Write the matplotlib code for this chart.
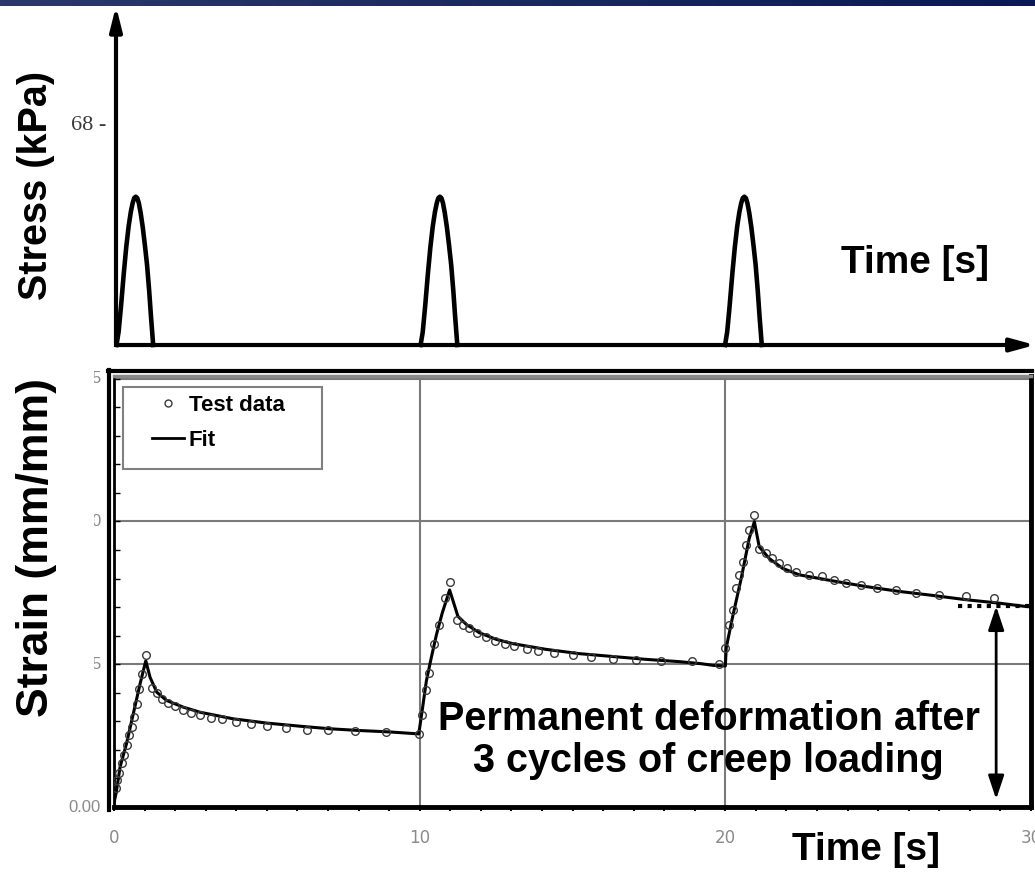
import numpy as np
import matplotlib
matplotlib.use("Agg")
import matplotlib.pyplot as plt
from matplotlib.lines import Line2D
from matplotlib.patches import Rectangle
from matplotlib import transforms

# stress pulses (one pulse shape, repeated at each cycle start)
pulse_starts = [0.08, 10.02, 19.97]
pulse_t = [0, 0.07, 0.15, 0.24, 0.32, 0.40, 0.47, 0.53, 0.58, 0.63, 0.68, 0.73, 0.79, 0.86,
           0.93, 1.0, 1.07, 1.13, 1.2]
pulse_kpa = [0, 4, 12, 22, 30, 36.5, 40.8, 43.5, 45, 45.4, 45, 43.5, 40.5, 36, 30.5, 24.5,
             16.5, 8.5, 0]

# strain fit curve
fit_t = [0.0, 0.07, 0.2, 0.41, 0.63, 0.85, 1.04, 1.18, 1.40, 1.72, 2.26, 2.81, 3.89, 4.99, 6.08,
         7.06, 8.0, 9.0, 9.97,
         10.06, 10.22, 10.38, 10.55, 10.74, 10.98, 11.25, 11.53, 11.96, 12.51, 13.05, 14.14,
         15.23, 16.32, 17.41, 18.5, 19.2, 19.6, 20.0,
         20.03, 20.23, 20.52, 20.78, 20.95, 21.11, 21.44, 21.87, 22.42, 23.51, 24.6, 25.69,
         26.78, 27.87, 28.95, 29.77, 30.0]
fit_s = [0.0015, 0.0049, 0.0141, 0.0222, 0.0326, 0.0430, 0.0512, 0.0454, 0.0402, 0.0373, 0.0350,
         0.0332, 0.0309, 0.0294, 0.0283, 0.0274, 0.0268, 0.0263, 0.0256,
         0.0321, 0.0442, 0.0523, 0.0604, 0.0680, 0.0760, 0.0668, 0.0639, 0.0610, 0.0587, 0.0572,
         0.0552, 0.0537, 0.0527, 0.0517, 0.0509, 0.0502, 0.0496, 0.0494,
         0.0558, 0.0662, 0.0801, 0.0940, 0.0999, 0.0911, 0.0870, 0.0836, 0.0813, 0.0792, 0.0772,
         0.0755, 0.0741, 0.0726, 0.0714, 0.0703, 0.0701]

# strain test data
test_t = [0.07, 0.11, 0.17, 0.25, 0.33, 0.42, 0.5, 0.58, 0.65, 0.74, 0.83, 0.91, 1.04,
          1.24, 1.41, 1.57, 1.76, 1.99, 2.25, 2.52, 2.81, 3.17, 3.53, 3.99, 4.48, 5.0, 5.62,
          6.31, 7.0, 7.9, 8.9,
          9.98, 10.06, 10.22, 10.3, 10.46, 10.63, 10.82, 10.98,
          11.21, 11.41, 11.6, 11.86, 12.16, 12.45, 12.78, 13.1, 13.5, 13.86, 14.41, 15.0, 15.62,
          16.31, 17.09, 17.91, 18.92, 19.8,
          20.0, 20.11, 20.24, 20.35, 20.46, 20.57, 20.68, 20.78, 20.95,
          21.11, 21.34, 21.54, 21.76, 22.03, 22.32, 22.75, 23.17, 23.56, 23.95, 24.44, 24.97,
          25.59, 26.24, 26.99, 27.88, 28.79]
test_s = [0.0066, 0.0095, 0.0118, 0.0153, 0.0182, 0.0217, 0.0251, 0.0280, 0.0315, 0.0361, 0.0413,
          0.0465, 0.0533,
          0.0416, 0.0398, 0.0377, 0.0364, 0.0353, 0.0339, 0.0329, 0.0322, 0.0311, 0.0308, 0.0298,
          0.0291, 0.0284, 0.0277, 0.0270, 0.0270, 0.0265, 0.0262,
          0.0257, 0.0321, 0.0408, 0.0471, 0.0572, 0.0639, 0.0732, 0.0788,
          0.0655, 0.0638, 0.0627, 0.0610, 0.0596, 0.0582, 0.0572, 0.0565, 0.0555, 0.0548, 0.0541,
          0.0534, 0.0527, 0.0520, 0.0516, 0.0513, 0.0510, 0.0502,
          0.0558, 0.0639, 0.0691, 0.0766, 0.0813, 0.0859, 0.0917, 0.0969, 0.1021,
          0.0905, 0.0888, 0.0871, 0.0853, 0.0836, 0.0822, 0.0811, 0.0808, 0.0794, 0.0784, 0.0777,
          0.0766, 0.0759, 0.0749, 0.0742, 0.0739, 0.0732]

x_ticks = [0, 10, 20, 30]
y_tick_vals = [0.05, 0.10, 0.15]
y_tick_text = ["0.05", "0.10", "0.15"]
permanent = 0.0703

W, H = 1035, 872
def fx(px):
    return px / W
def fy(py):
    return 1 - py / H

SANS = "Liberation Sans"
fig = plt.figure(figsize=(W / 100, H / 100), dpi=100)

# dark banner at the very top
band = fig.add_axes([0, fy(6), 1, 6 / H])
grad = np.linspace(0, 1, 256)
cols = np.array([[0.17, 0.22, 0.42]]) * (1 - grad[:, None]) + np.array([[0.04, 0.10, 0.34]]) * grad[:, None]
band.imshow(cols[None, :, :], aspect="auto", extent=[0, 1, 0, 1])
band.axis("off")

# ---- stress panel ----
ax1 = fig.add_axes([fx(116), fy(345), fx(1035) - fx(116), fy(6) - fy(345)])
ax1.set_xlim(0.065, 30.1)
ax1.set_ylim(0, 103.8)
for st in pulse_starts:
    ax1.plot([st + p for p in pulse_t], pulse_kpa, color="k", lw=3.3, solid_joinstyle="round", clip_on=False)
for s in ax1.spines.values():
    s.set_visible(False)
ax1.set_xticks([])
ax1.set_yticks([68], ["68 -"])
ax1.tick_params(axis="y", length=0, pad=7, labelsize=16, labelcolor="#3a3a3a")
for lab in ax1.get_yticklabels():
    lab.set_family("Liberation Serif")
ax1.annotate("", xy=(1, 0), xytext=(0, 0), xycoords="axes fraction", annotation_clip=False,
             arrowprops=dict(arrowstyle="-|>,head_length=0.8,head_width=0.22", lw=3, color="k",
                             mutation_scale=18, shrinkA=0, shrinkB=0))
ax1.annotate("", xy=(0, 1), xytext=(0, 0), xycoords="axes fraction", annotation_clip=False,
             arrowprops=dict(arrowstyle="-|>,head_length=0.8,head_width=0.2", lw=3, color="k",
                             mutation_scale=18, shrinkA=0, shrinkB=0))
fig.text(fx(36), fy(185), "Stress (kPa)", rotation=90, ha="center", va="center",
         family=SANS, weight="bold", size=28.5)
fig.text(fx(915), fy(273), "Time [s]", ha="center", va="baseline",
         family=SANS, weight="bold", size=28)

# ---- strain panel ----
ax2 = fig.add_axes([fx(114), fy(807), fx(1031) - fx(114), fy(376) - fy(807)])
ax2.set_xlim(0, 30)
ax2.set_ylim(0.00128, 0.15094)
ax2.set_axisbelow(True)
ax2.plot(fit_t, fit_s, color="k", lw=2.2, zorder=3)
ax2.plot(test_t, test_s, ls="none", marker="o", ms=5.5, mfc="none", mec="#3a3a3a", mew=1, zorder=4)

ax2.set_xticks(x_ticks, [str(v) for v in x_ticks])
ax2.set_xticks(np.arange(0, 31, 1), minor=True)
ax2.set_yticks([0, 0.05, 0.10, 0.15])
ax2.set_yticks(np.arange(0, 0.151, 0.01), minor=True)
ax2.tick_params(axis="x", which="both", direction="out", length=3, width=1.5, pad=13,
                labelsize=12, labelcolor="#8a8a8a")
ax2.tick_params(axis="y", which="both", direction="in", length=4, width=1, labelleft=False)
ax2.grid(True, which="major", color="#7a7a7a", lw=1.5)
for side in ["left", "bottom", "right"]:
    ax2.spines[side].set_color("k")
ax2.spines["left"].set_linewidth(2)
ax2.spines["bottom"].set_linewidth(3.5)
ax2.spines["right"].set_linewidth(3.5)
ax2.spines["top"].set_color("#8a8a8a")
ax2.spines["top"].set_linewidth(2.5)
fig.add_artist(Line2D([fx(109), fx(109)], [fy(370), fy(810)], transform=fig.transFigure, color="k", lw=3))
fig.add_artist(Line2D([fx(107.5), fx(1032)], [fy(371.5), fy(371.5)], transform=fig.transFigure, color="k", lw=3))

# y tick labels, partly hidden on the left as in the slide
blend = transforms.blended_transform_factory(fig.transFigure, ax2.transData)
fig.text(fx(101), 0.0, "0.00", transform=blend, ha="right", va="center", family=SANS, size=12, color="#8a8a8a")
clip = transforms.TransformedBbox(transforms.Bbox.from_extents(fx(94), fy(800), 1, 1), fig.transFigure)
for v, txt in zip(y_tick_vals, y_tick_text):
    t = fig.text(fx(102), v, txt, transform=blend, ha="right", va="center", family=SANS, size=12, color="#8a8a8a")
    t.set_clip_box(clip)
    t.set_clip_on(True)

fig.text(fx(37), fy(547), "Strain (mm/mm)", rotation=90, ha="center", va="center",
         family=SANS, weight="bold", size=32)

# legend
ax2.add_patch(Rectangle((9 / 917, 1 - 93 / 431), 199 / 917, 82 / 431, transform=ax2.transAxes,
                        fill=False, edgecolor="#808080", lw=1.5, zorder=5))
handles = [Line2D([], [], ls="none", marker="o", ms=5, mfc="none", mec="#3a3a3a", mew=1),
           Line2D([], [], color="k", lw=2)]
ax2.legend(handles, ["Test data", "Fit"], loc="upper left", bbox_to_anchor=((152 - 114) / 917, 1 - 19 / 431),
           frameon=False, borderpad=0, borderaxespad=0, handlelength=1.45, handletextpad=0.2,
           labelspacing=0.64, numpoints=1, prop=dict(family=SANS, weight="bold", size=16))

# permanent deformation marker
ax2.plot([27.6, 30], [permanent, permanent], color="k", lw=3, ls=(0, (1, 1.3)), zorder=3)
ax2.annotate("", xy=(28.86, 0.0027), xytext=(28.86, permanent),
             arrowprops=dict(arrowstyle="<|-|>,head_length=0.9,head_width=0.3", lw=2, color="k",
                             mutation_scale=16, shrinkA=0, shrinkB=0))
ax2.text(19.46, 0.0268, "Permanent deformation after", ha="center", va="baseline",
         family=SANS, weight="bold", size=28.5)
ax2.text(19.46, 0.0122, "3 cycles of creep loading", ha="center", va="baseline",
         family=SANS, weight="bold", size=28.5)

fig.text(fx(866), fy(860), "Time [s]", ha="center", va="baseline", family=SANS, weight="bold", size=28)

fig.savefig("out.png", dpi=100)
